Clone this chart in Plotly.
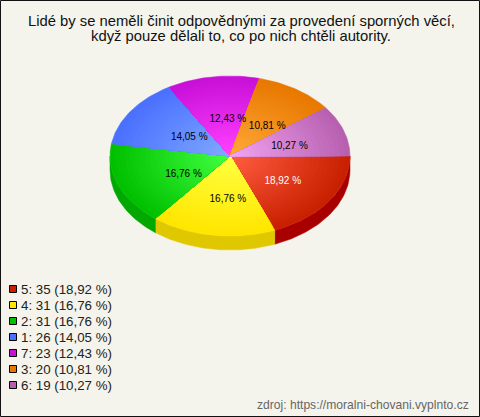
import math
import plotly.graph_objects as go

# --- data ---
categories = ["5", "4", "2", "1", "7", "3", "6"]
counts = [35, 31, 31, 26, 23, 20, 19]
edge_colors = ["#c82000", "#ffe600", "#00c000", "#4a70ff", "#c810d8", "#e87800", "#b860b0"]
center_colors = ["#ff5c40", "#ffff40", "#40ff40", "#80a8ff", "#ff40ff", "#ffa838", "#f0a4f0"]
side_colors = ["#a80000", "#e0c800", "#00a800", "#2848c0", "#900098", "#b05000", "#884080"]
label_colors = ["#ffffff", "#000000", "#000000", "#000000", "#000000", "#000000", "#000000"]
title_lines = [
    "Lidé by se neměli činit odpovědnými za provedení sporných věcí,",
    "když pouze dělali to, co po nich chtěli autority.",
]
source_text = "zdroj: https://moralni-chovani.vyplnto.cz"

# --- geometry ---
W, H = 480, 417
CX, CY, RX, RY, DEPTH = 230, 156, 120, 80, 14
RINGS = 24
FONT = "Liberation Sans, Arial, sans-serif"
BG = "#f4f4ec"
total = sum(counts)


def pct(v):
    return f"{100 * v / total:.2f}".replace(".", ",") + " %"


def hex_rgb(h):
    return tuple(int(h[i:i + 2], 16) for i in (1, 3, 5))


def mix(a, b, t):
    ra, rb = hex_rgb(a), hex_rgb(b)
    return "rgb(%d,%d,%d)" % tuple(round(x + (y - x) * t) for x, y in zip(ra, rb))


def arc(a0, a1, frac=1.0, dy=0.0):
    n = max(2, int(abs(a1 - a0) * 60))
    pts = [a0 + (a1 - a0) * i / n for i in range(n + 1)]
    return ([CX + RX * frac * math.cos(p) for p in pts],
            [CY + dy + RY * frac * math.sin(p) for p in pts])


fig = go.Figure()


def poly(xs, ys, color):
    fig.add_trace(go.Scatter(x=xs, y=ys, mode="lines", fill="toself", fillcolor=color,
                             line=dict(width=0.5, color=color), hoverinfo="skip", showlegend=False))


# angles of every slice, clockwise from 3 o'clock
spans = []
start = 0.0
for v in counts:
    end = start + 2 * math.pi * v / total
    spans.append((start, end))
    start = end

# side walls
for (a0, a1), col in zip(spans, side_colors):
    lo, hi = a0, min(a1, math.pi)
    if lo < hi:
        x1, y1 = arc(lo, hi)
        x2, y2 = arc(hi, lo, dy=DEPTH)
        poly(x1 + x2 + x1[:1], y1 + y2 + y1[:1], col)

# top faces, drawn outer to inner so that the radial shading has no seams
for (a0, a1), e, c in zip(spans, edge_colors, center_colors):
    for r in range(RINGS):
        frac = 1 - r / RINGS
        xs, ys = arc(a0, a1, frac)
        poly([CX] + xs + [CX], [CY] + ys + [CY], mix(e, c, r / (RINGS - 1)))

# percentage labels
lab_x, lab_y, lab_t = [], [], []
for (a0, a1), v in zip(spans, counts):
    m = (a0 + a1) / 2
    lab_x.append(CX + 6 + RX * 0.47 * math.cos(m))
    lab_y.append(CY + 3.5 + RY * 0.5 * math.sin(m))
    lab_t.append(pct(v))
fig.add_trace(go.Scatter(x=lab_x, y=lab_y, text=lab_t, mode="text", textposition="middle center",
                         textfont=dict(family=FONT, size=10, color=label_colors),
                         hoverinfo="skip", showlegend=False))

# legend
leg_y = [289 + 16 * i for i in range(len(counts))]
fig.add_trace(go.Scatter(x=[13] * len(counts), y=leg_y, mode="markers",
                         marker=dict(symbol="square", size=7, color=edge_colors,
                                     line=dict(color="#000000", width=1)),
                         hoverinfo="skip", showlegend=False))

annotations = []
for name, v, y in zip(categories, counts, leg_y):
    annotations.append(dict(x=20, y=y, xref="x", yref="y", xanchor="left", yanchor="middle",
                            text=f"{name}: {v} ({pct(v)})", showarrow=False, borderpad=0,
                            font=dict(family=FONT, size=13.3, color="#222222")))
for line, y in zip(title_lines, [20.5, 36]):
    annotations.append(dict(x=241, y=y, xref="x", yref="y", xanchor="center", yanchor="middle",
                            text=line, showarrow=False, borderpad=0,
                            font=dict(family=FONT, size=14.8, color="#111111")))
annotations.append(dict(x=470, y=405, xref="x", yref="y", xanchor="right", yanchor="middle",
                        text=source_text, showarrow=False, borderpad=0,
                        font=dict(family=FONT, size=12.1, color="#666666")))

fig.update_layout(
    width=W, height=H, margin=dict(l=0, r=0, t=0, b=0),
    paper_bgcolor=BG, plot_bgcolor=BG, showlegend=False,
    xaxis=dict(range=[0, W], visible=False, fixedrange=True),
    yaxis=dict(range=[H, 0], visible=False, fixedrange=True),
    annotations=annotations,
    shapes=[dict(type="rect", xref="x", yref="y", x0=0.5, y0=0.5, x1=W - 0.5, y1=H - 0.5,
                 line=dict(color="#111111", width=1), fillcolor="rgba(0,0,0,0)")],
)

fig.write_html("out.html", config={"displayModeBar": False},
               post_script="document.body.style.margin='0';document.body.style.overflow='hidden';")
